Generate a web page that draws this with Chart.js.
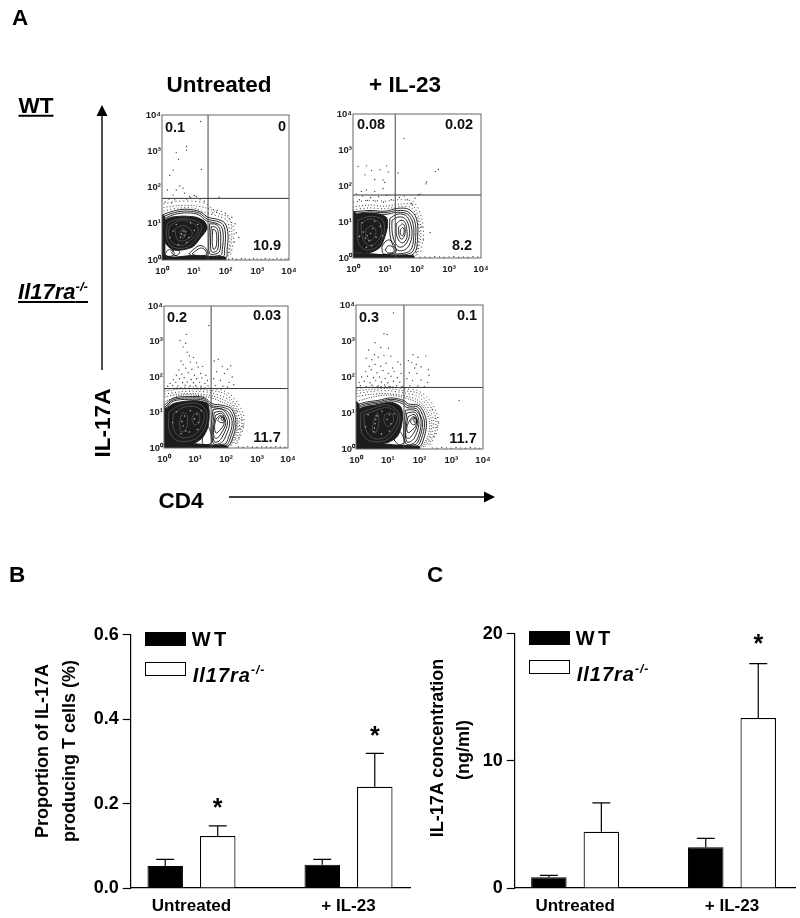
<!DOCTYPE html>
<html>
<head>
<meta charset="utf-8">
<script src="https://cdn.jsdelivr.net/npm/chart.js@4"></script>
<style>
  html, body { margin: 0; background: #fff; }
  body { position: relative; width: 800px; height: 918px; overflow: hidden; font-family: "Liberation Sans", Arial, sans-serif; font-weight: bold; color: #000; }
  canvas { position: absolute; }
  .t { position: absolute; line-height: 1; white-space: nowrap; transform: translate(-50%, -50%); }
  .pct { font-size: 14.5px; color: #111; }
  .head { font-size: 22.5px; }
  .rot { transform: translate(-50%, -50%) rotate(-90deg); }
  .ytitle { font-size: 18px; }
  .lg { font-size: 20px; }
  .ko { font-style: italic; letter-spacing: 1px; }
  sup { font-size: 60%; line-height: 0; }
  .sw { position: absolute; width: 39px; height: 12px; border: 1px solid #000; box-sizing: content-box; }
  svg { position: absolute; left: 0; top: 0; }
</style>
</head>
<body>
<canvas id="p1" width="171" height="173" style="left:132px;top:105px"></canvas>
<canvas id="p2" width="172" height="172" style="left:323px;top:104px"></canvas>
<canvas id="p3" width="168" height="170" style="left:134px;top:296px"></canvas>
<canvas id="p4" width="171" height="172" style="left:326px;top:295px"></canvas>
<canvas id="barB" width="325" height="298" style="left:90px;top:620px"></canvas>
<canvas id="barC" width="326" height="299" style="left:474px;top:619px"></canvas>

<svg width="800" height="918">
  <line x1="102" y1="370" x2="102" y2="112" stroke="#000" stroke-width="1.4"/>
  <polygon points="102,105 96.5,116 107.5,116" fill="#000"/>
  <line x1="229" y1="497" x2="486" y2="497" stroke="#000" stroke-width="1.4"/>
  <polygon points="495,497 484,491.5 484,502.5" fill="#000"/>
</svg>

<div class="t head" style="left:20px;top:18px">A</div>
<div class="t head" style="left:17px;top:575px">B</div>
<div class="t head" style="left:435px;top:575px">C</div>
<div class="t head" style="left:219px;top:85px">Untreated</div>
<div class="t head" style="left:405px;top:85px">+ IL-23</div>
<div class="t head" style="left:36px;top:106px;text-decoration:underline">WT</div>
<div class="t head" style="left:53px;top:292px;font-size:22px;font-style:italic;text-decoration:underline">Il17ra<sup>-/-</sup></div>
<div class="t head rot" style="left:103px;top:423px">IL-17A</div>
<div class="t head" style="left:181px;top:501px">CD4</div>

<div class="t pct" style="left:175px;top:127px">0.1</div>
<div class="t pct" style="left:282px;top:126px">0</div>
<div class="t pct" style="left:267px;top:245px">10.9</div>
<div class="t pct" style="left:371px;top:124px">0.08</div>
<div class="t pct" style="left:459px;top:124px">0.02</div>
<div class="t pct" style="left:462px;top:245px">8.2</div>
<div class="t pct" style="left:177px;top:317px">0.2</div>
<div class="t pct" style="left:267px;top:315px">0.03</div>
<div class="t pct" style="left:267px;top:437px">11.7</div>
<div class="t pct" style="left:369px;top:317px">0.3</div>
<div class="t pct" style="left:467px;top:315px">0.1</div>
<div class="t pct" style="left:463px;top:438px">11.7</div>

<div class="t ytitle rot" style="left:42px;top:751px">Proportion of IL-17A</div>
<div class="t ytitle rot" style="left:69px;top:751px">producing T cells (%)</div>
<div class="t ytitle rot" style="left:437px;top:748px">IL-17A concentration</div>
<div class="t ytitle rot" style="left:463px;top:750px">(ng/ml)</div>

<div class="sw" style="left:145px;top:632px;background:#000"></div>
<div class="sw" style="left:145px;top:662px;background:#fff"></div>
<div class="t lg" style="left:209px;top:639px;word-spacing:-2px">W T</div>
<div class="t lg ko" style="left:229px;top:675px">Il17ra<sup>-/-</sup></div>
<div class="sw" style="left:529px;top:631px;background:#000"></div>
<div class="sw" style="left:529px;top:660px;background:#fff"></div>
<div class="t lg" style="left:593px;top:638px;word-spacing:-2px">W T</div>
<div class="t lg ko" style="left:613px;top:674px">Il17ra<sup>-/-</sup></div>

<script>
// bar panels
const categories = ['Untreated', '+ IL-23'];
const bWt = [0.052, 0.055];
const bWtErr = [0.068, 0.068];
const bKo = [0.123, 0.24];
const bKoErr = [0.147, 0.319];
const bKoStars = [0.196, 0.368];
const cWt = [0.84, 3.2];
const cWtErr = [1.0, 3.9];
const cKo = [4.42, 13.37];
const cKoErr = [6.7, 17.66];
const cKoStars = [null, 19.4];

// flow panels, all values in log10 decades (x, y, x, y ...)
const gateX = [1.45, 1.32, 1.52, 1.51];
const gateY = [1.70, 1.75, 1.675, 1.71];

const p1Dots = [1.22,3.82,.77,3.13,.77,3.03,.45,2.97,.52,2.78,1.24,2.5,.35,2.48,.24,2.34,.17,1.93,.56,2.04,.66,1.98,.45,1.93,.71,1.84,.87,1.75,1.08,1.75,.35,1.79,1.8,1.73,
  .9,1.72,1.02,1.78,.22,1.68,.4,1.66,.62,1.7,.78,1.68,1.2,1.66,1.33,1.62,.1,1.6,.3,1.58,1.6,1.3,1.72,1.32,2.0,1.28,2.3,1.0,2.34,.75,2.28,.5,2.42,.62,2.2,1.18,
  2.1,.03,2.22,.04,2.35,.02,2.5,.04,2.62,.03,2.75,.02,2.88,.04,3.0,.03,3.12,.02,3.25,.04,3.38,.03,3.5,.02,3.62,.04,3.75,.03,3.88,.02,3.97,.03];
const p1Halo = [[.05,1.55,.5,1.62,1,1.62,1.4,1.55,1.6,1.4,2,1.3,2.25,.9,2.25,.5,2.15,.1],
  [.05,1.45,.5,1.5,1,1.5,1.45,1.42,1.8,1.28,2.12,1.15,2.2,.7,2.12,.15],
  [.05,1.35,.5,1.43,1,1.43,1.4,1.3,1.8,1.2,2.06,1.08,2.14,.6,2.08,.1]];
const p1Body = [[.06,1.1,.29,1.18,.66,1.21,1.08,1.18,1.34,1.06,1.42,.87,1.24,.64,.98,.37,.66,.28,.35,.28,.12,.46],
  [0,0,2,0,2,.08,1.4,.1,.9,.12,.4,.08,0,.1],
  [0,0,.08,0,.08,1.2,0,1.22]];
const p1Rings = [[.02,1.25,.4,1.36,.8,1.4,1.2,1.33,1.45,1.18,1.75,1.12,1.98,1.02,2.08,.7,2.05,.3,2,.06,1,.03,.05,.03,.02,.6],
  [.05,1.2,.4,1.31,.8,1.35,1.18,1.29,1.42,1.13,1.72,1.07,1.92,.98,2,.7,1.97,.3,1.93,.1,1,.07,.08,.08,.05,.6],
  [.08,1.15,.4,1.26,.8,1.3,1.15,1.25,1.4,1.08,1.68,1.02,1.87,.92,1.93,.65,1.9,.3,1.85,.13,1,.11,.12,.12,.08,.6],
  [1.5,1,1.7,.98,1.82,.85,1.85,.55,1.82,.25,1.7,.17,1.5,.18,1.48,.6],
  [1.55,.92,1.7,.9,1.77,.78,1.78,.5,1.75,.28,1.65,.22,1.55,.24,1.53,.6],
  [1.6,.85,1.68,.82,1.72,.7,1.72,.45,1.68,.32,1.62,.3,1.58,.5],
  [.85,.17,1,.3,1.2,.4,1.38,.32,1.45,.15,1.3,.1,1,.1],
  [.95,.17,1.1,.28,1.25,.33,1.38,.25,1.4,.15,1.25,.12,1.05,.13],
  [.1,.18,.2,.28,.35,.25,.38,.15,.25,.1,.12,.12],
  [.3,.2,.42,.3,.55,.24,.5,.14,.38,.13]];
const p1Sheen = [[.25,.95,.6,1.1,1,1,1.15,.8,.9,.55,.6,.4,.3,.5,.2,.75],[.4,.85,.65,.95,.9,.85,.95,.7,.75,.55,.5,.55],[.55,.75,.66,.88,.74,.72,.66,.6],[.16,1,.45,1.12,.9,1.12,1.25,.95,1.05,.55,.7,.33,.3,.38,.15,.6]];
const p1Specks = [.62,.72,.66,.8,.7,.68,.58,.62,.74,.78,.35,.8,.45,.98,.85,.62,1.02,.82,.9,1.02,.52,.42,.78,.48,.25,.62,1.12,.98];

const p2Dots = [1.59,3.32,.16,2.54,.42,2.56,.58,2.43,.84,2.45,1.05,2.56,.94,2.17,.99,2.1,.68,2.18,.37,2.31,1.1,2.39,.26,1.85,.42,1.89,.68,1.85,.94,1.93,1.41,2.36,
  2.67,2.46,2.57,2.4,2.3,2.11,2.28,2.06,2.04,1.75,1.94,1.66,2.1,1.77,1.83,1.52,
  2.41,.71,2.15,.87,2.2,.5,.1,1.78,.3,1.72,.55,1.68,.8,1.7,1.05,1.74,1.2,1.62,1.45,1.68,1.6,1.72,.2,1.62,.45,1.6,.7,1.58,.95,1.55,1.7,1.62,1.85,1.48,
  2.1,.02,2.25,.03,2.4,.02,2.55,.04,2.7,.03,2.85,.02,3,.03,3.15,.04,3.3,.02,3.45,.03,3.6,.02,3.75,.04,3.9,.03];
const p2Halo = [[0,1.55,.5,1.6,1,1.58,1.5,1.62,1.9,1.55,2.15,1.1,2.2,.6,2.1,.1],
  [0,1.42,.5,1.47,1,1.44,1.5,1.5,1.85,1.48,2.08,1.05,2.12,.6,2,.08],
  [0,1.34,.5,1.39,1,1.37,1.5,1.43,1.82,1.4,2.03,1.05,2.07,.6,1.96,.06]];
const p2Body = [[.05,1.2,.4,1.25,.8,1.22,1.05,1.12,1.08,.9,1,.6,.85,.3,.6,.17,.3,.14,.05,.2],
  [0,0,1.9,0,1.9,.06,1.2,.07,.5,.12,0,.12],
  [0,0,.08,0,.08,1.25,0,1.3]];
const p2Rings = [[0,1.28,.5,1.32,1,1.3,1.4,1.38,1.75,1.35,1.98,1.1,2.02,.6,1.9,.12,1.3,.04,.5,.03,0,.04],
  [.02,1.23,.5,1.28,1,1.26,1.4,1.32,1.72,1.28,1.92,1.05,1.96,.6,1.84,.16,1.3,.08,.5,.07,.03,.08],
  [.04,1.19,.5,1.24,1,1.21,1.4,1.27,1.7,1.22,1.86,1,1.9,.6,1.78,.2,1.3,.11,.5,.1,.06,.12],
  [1.15,1.1,1.4,1.22,1.65,1.18,1.8,.95,1.84,.6,1.7,.28,1.45,.2,1.25,.35,1.15,.7],
  [1.22,1.05,1.42,1.14,1.62,1.1,1.74,.9,1.76,.6,1.62,.36,1.45,.3,1.3,.45,1.22,.75],
  [1.35,.95,1.5,1.05,1.62,1,1.68,.8,1.68,.55,1.55,.42,1.42,.5,1.35,.7],
  [1.42,.85,1.55,.95,1.62,.85,1.62,.65,1.52,.52,1.44,.62],
  [1.48,.78,1.56,.85,1.6,.75,1.55,.62,1.48,.66],
  [.9,.3,1,.45,1.15,.5,1.3,.35,1.35,.18,1.2,.12,.95,.12],
  [1,.22,1.1,.34,1.25,.3,1.28,.18,1.1,.14]];
const p2Sheen = [[.25,.95,.5,1.08,.8,1,.9,.75,.75,.45,.5,.35,.3,.55],[.4,.8,.6,.9,.72,.72,.6,.5,.42,.55],[.15,1.05,.5,1.15,.9,1.08,.98,.75,.8,.35,.45,.22,.18,.4]];
const p2Specks = [.45,.62,.38,.55,.5,.48,.55,.68,.32,.72,.62,.82,.72,.58,.28,.98,.68,1.02,.85,.88,.42,.3,.58,.34,.2,.6,.92,.62];

const p3Dots = [.52,3.03,.7,2.95,.62,2.85,.72,3.2,1.45,3.45,.75,2.7,.82,2.6,.55,2.45,.95,2.55,.62,2.35,.85,2.42,1.05,2.4,.48,2.2,.7,2.25,.9,2.22,1.1,2.28,1.25,2.3,
  .4,2.05,.58,2.08,.78,2.12,.98,2.05,1.18,2.1,1.35,2.05,.3,1.92,.5,1.95,.65,1.98,.88,1.93,1.05,1.95,1.22,1.97,1.4,1.9,.2,1.82,.38,1.85,.6,1.84,.75,1.86,.95,1.84,1.15,1.85,1.32,1.82,
  .12,1.74,.28,1.76,.45,1.75,.68,1.77,.85,1.75,1.02,1.76,1.2,1.74,1.42,1.75,
  1.62,2.45,1.75,2.5,1.88,2.3,2.15,2.32,2.05,2.22,1.7,2.15,1.95,2.1,2.2,2.0,1.6,1.95,1.82,1.9,2.1,1.85,2.25,1.78,1.65,1.76,1.9,1.74,2.05,1.72,
  2.5,.8,2.45,.55,2.55,.62,2.42,.3,2.35,1.05,
  2.4,.03,2.55,.02,2.7,.04,2.85,.03,3,.02,3.15,.04,3.3,.03,3.45,.02,3.6,.04,3.75,.03,3.9,.02];
const p3Halo = [[.02,1.66,.5,1.7,1,1.72,1.5,1.68,1.9,1.62,2.25,1.42,2.56,.95,2.55,.55,2.36,.12],
  [.02,1.6,.5,1.66,1,1.66,1.5,1.62,1.9,1.55,2.2,1.35,2.5,.9,2.48,.5,2.3,.1],
  [.02,1.52,.5,1.58,1,1.6,1.5,1.56,1.9,1.45,2.2,1.28,2.43,.85,2.4,.45,2.22,.08],
  [.02,1.44,.5,1.52,1,1.53,1.5,1.48,1.9,1.36,2.2,1.2,2.38,.8,2.34,.4,2.16,.06],
  [.02,1.3,.5,1.48,1,1.49,1.5,1.42,1.9,1.28,2.2,1.14,2.36,.75,2.28,.35,2.1,.05]];
const p3Body = [[.05,1.1,.3,1.25,.7,1.32,1.1,1.33,1.4,1.25,1.46,1,1.42,.6,1.25,.3,1,.15,.5,.1,.1,.1],
  [0,0,2.05,0,2.05,.05,1.5,.08,1,.12,.4,.15,0,.12],
  [0,0,.08,0,.08,1.05,0,1.1]];
const p3Rings = [[0,1.2,.3,1.4,.8,1.45,1.3,1.42,1.55,1.25,1.9,1.2,2.18,1.1,2.32,.7,2.2,.25,2.05,.05,1,.03,.05,.03],
  [.03,1.15,.3,1.36,.8,1.41,1.3,1.38,1.53,1.2,1.88,1.15,2.13,1.05,2.26,.7,2.14,.28,2,.08,1,.06,.08,.06],
  [.05,1.12,.3,1.32,.8,1.37,1.3,1.34,1.51,1.16,1.86,1.1,2.08,1,2.2,.7,2.08,.3,1.95,.11,1,.09,.1,.09],
  [1.58,1.08,1.85,1.1,2.03,.95,2.12,.7,2,.35,1.85,.15,1.6,.12,1.52,.5],
  [1.62,1,1.85,1.03,1.98,.9,2.05,.7,1.93,.4,1.78,.2,1.62,.18,1.57,.55],
  [1.66,.92,1.85,.98,1.95,.85,1.99,.68,1.87,.45,1.72,.28,1.62,.3,1.6,.6],
  [1.68,.82,1.82,.92,1.92,.82,1.93,.66,1.8,.5,1.68,.42,1.63,.6],
  [1.78,.86,1.88,.9,1.96,.82,1.92,.72,1.82,.72,1.74,.78],
  [1.84,.85,1.9,.86,1.92,.8,1.86,.78],
  [1.25,.32,1.42,.6,1.5,.45,1.56,.2,1.45,.1,1.25,.12]];
const p3Sheen = [[.3,.95,.65,1.15,1.05,1.15,1.3,.95,1.2,.6,.95,.35,.55,.3,.3,.55],[.5,.7,.6,1.0,.75,.9,.72,.55,.55,.45],[.95,.95,1.1,1,1.15,.8,1,.65,.9,.8],[.15,1,.5,1.2,1.1,1.25,1.38,1,1.3,.55,1,.25,.45,.2,.18,.45]];
const p3Specks = [.62,.62,.58,.75,.66,.9,.7,.48,.55,.4,.98,.82,1.06,.95,1.12,.72,.85,1.05,.4,1.02,.28,.72,1.2,1.05,.82,.45,1.08,.52];

const p4Dots = [1.18,3.78,.6,2.95,.88,3.2,.98,3.18,.4,2.75,.58,2.62,.78,2.82,1.02,2.8,.32,2.52,.5,2.48,.7,2.55,.88,2.6,1.1,2.58,1.32,2.42,
  .42,2.3,.6,2.35,.78,2.3,.95,2.38,1.15,2.25,1.4,2.35,.3,2.15,.48,2.2,.66,2.12,.85,2.18,1.02,2.1,1.2,2.15,1.42,2.1,.18,2.0,.36,2.02,.55,1.98,.74,2.0,.92,1.96,1.1,2.02,1.3,1.98,
  .1,1.85,.26,1.88,.44,1.84,.62,1.9,.8,1.86,1,1.84,1.18,1.88,1.38,1.86,.14,1.76,.32,1.74,.5,1.77,.7,1.75,.9,1.78,1.08,1.74,1.28,1.76,1.45,1.74,
  1.65,2.45,1.8,2.62,1.95,2.55,2.2,2.58,1.75,2.4,1.9,2.35,1.85,2.25,2.05,2.28,2.28,2.2,1.68,2.12,1.92,2.1,2.3,2.05,1.6,1.95,1.78,1.9,2.05,1.92,2.25,1.85,1.7,1.76,1.95,1.75,2.15,1.74,
  3.25,1.35,2.5,.85,2.55,.6,2.45,.35,2.6,.72,2.4,1.1,
  2.4,.03,2.55,.02,2.7,.04,2.85,.03,3,.02,3.15,.04,3.3,.03,3.45,.02,3.6,.04,3.75,.03,3.9,.02];
const p4Halo = [[.02,1.68,.5,1.72,1,1.74,1.5,1.68,1.95,1.62,2.3,1.38,2.56,.95,2.55,.5,2.32,.1],
  [.02,1.62,.5,1.66,1,1.68,1.5,1.62,1.95,1.55,2.25,1.3,2.5,.9,2.48,.45,2.25,.08],
  [.02,1.54,.5,1.6,1,1.62,1.5,1.56,1.95,1.46,2.22,1.22,2.43,.85,2.4,.42,2.18,.06],
  [.02,1.46,.5,1.52,1,1.54,1.5,1.48,1.9,1.38,2.18,1.16,2.38,.8,2.33,.38,2.12,.05],
  [.02,1.32,.5,1.44,1,1.5,1.5,1.43,1.9,1.3,2.15,1.12,2.32,.75,2.26,.34,2.06,.05]];
const p4Body = [[.05,1.1,.3,1.18,.6,1.22,1.1,1.3,1.4,1.18,1.47,.95,1.42,.6,1.3,.35,1,.18,.5,.14,.1,.12],
  [0,0,2,0,2,.06,1.4,.1,.9,.14,.4,.15,0,.14],
  [0,0,.09,0,.09,1.25,0,1.3]];
const p4Rings = [[0,1.22,.3,1.3,.7,1.35,1.1,1.42,1.5,1.35,1.65,1.25,1.95,1.22,2.12,1.05,2.22,.7,2.12,.25,1.98,.06,1,.04,.05,.03],
  [.03,1.18,.3,1.26,.7,1.31,1.1,1.38,1.48,1.31,1.63,1.2,1.93,1.17,2.07,1,2.16,.7,2.06,.28,1.92,.09,1,.07,.08,.07],
  [.05,1.14,.3,1.22,.7,1.27,1.1,1.34,1.46,1.26,1.6,1.15,1.9,1.12,2.02,.95,2.1,.7,2,.3,1.86,.12,1,.1,.1,.1],
  [1.56,1.08,1.85,1.08,2,.95,2.05,.7,1.95,.32,1.8,.15,1.58,.14,1.5,.5],
  [1.6,1,1.85,1.02,1.95,.9,1.98,.68,1.88,.38,1.75,.22,1.6,.2,1.55,.55],
  [1.64,.9,1.83,.96,1.92,.84,1.93,.66,1.82,.45,1.68,.3,1.58,.32,1.58,.6],
  [1.68,.78,1.8,.9,1.9,.82,1.88,.64,1.76,.52,1.64,.45,1.6,.6],
  [1.76,.82,1.86,.88,1.92,.8,1.88,.7,1.78,.68,1.72,.76],
  [1.82,.84,1.88,.84,1.9,.78,1.84,.74],
  [1.2,.25,1.35,.5,1.48,.35,1.52,.18,1.35,.12]];
const p4Sheen = [[.25,.95,.55,1.05,1,1.15,1.3,.95,1.2,.6,.9,.32,.55,.3,.3,.55],[.5,.5,.58,.85,.68,1,.72,.75,.62,.45],[.9,.95,1.1,1,1.18,.78,1,.62,.88,.78],[.15,1,.5,1.12,1,1.22,1.36,.98,1.3,.58,.95,.25,.45,.22,.18,.45]];
const p4Specks = [.58,.58,.6,.7,.62,.82,.56,.48,.66,.92,.98,.82,1.05,.95,1.1,.7,.82,1.05,.38,.95,.3,.62,1.2,.98,.8,.42,1.05,.5];

Chart.defaults.animation = false;
Chart.defaults.responsive = false;
Chart.defaults.font.family = '"Liberation Sans", Arial, sans-serif';
Chart.defaults.plugins.legend.display = false;
Chart.defaults.plugins.tooltip.enabled = false;

const superDigits = ['⁰', '¹', '²', '³', '⁴'];

function toPoints(flat, closed) {
  const pts = [];
  for (let i = 0; i < flat.length; i += 2) pts.push({ x: flat[i], y: flat[i + 1] });
  if (closed) pts.push(pts[0]);
  return pts;
}

// draws the box round a flow plot
const frame = {
  id: 'frame',
  afterDraw(chart) {
    const a = chart.chartArea, c = chart.ctx;
    c.save();
    c.strokeStyle = '#666';
    c.lineWidth = 1;
    c.strokeRect(a.left, a.top, a.right - a.left, a.bottom - a.top);
    c.restore();
  }
};

function flowPanel(id, i, dots, halo, body, rings, sheen, specks) {
  const datasets = [];
  const add = d => datasets.push(Object.assign({ showLine: true, pointRadius: 0, fill: false, order: -datasets.length }, d));
  const dashes = [[1, 3], [1, 2], [1, 2.5], [1, 1.8], [1, 1.5]];
  halo.forEach((h, k) => add({ data: toPoints(h), borderColor: '#333', borderWidth: 1, borderDash: dashes[k % 5], tension: 0.3 }));
  rings.forEach(r => add({ data: toPoints(r, true), borderColor: '#111', borderWidth: 0.9, tension: 0.35 }));
  body.forEach(b => add({ data: toPoints(b, true), borderColor: '#1c1c1c', backgroundColor: '#1c1c1c', borderWidth: 1, fill: 'shape', tension: 0.25 }));
  sheen.forEach(s => add({ data: toPoints(s, true), borderColor: '#5f5f5f', borderWidth: 0.7, tension: 0.35 }));
  add({ data: toPoints(specks), showLine: false, pointRadius: 0.8, pointBorderWidth: 0, pointBackgroundColor: '#aaa' });
  add({ data: toPoints(dots), showLine: false, pointRadius: 0.7, pointBorderWidth: 0, pointBackgroundColor: '#444' });
  add({ data: [{ x: gateX[i], y: 0 }, { x: gateX[i], y: 4 }], borderColor: '#444', borderWidth: 1 });
  add({ data: [{ x: 0, y: gateY[i] }, { x: 4, y: gateY[i] }], borderColor: '#333', borderWidth: 1 });

  new Chart(document.getElementById(id), {
    type: 'scatter',
    data: { datasets },
    plugins: [frame],
    options: {
      layout: { padding: { top: 10, right: 14 } },
      scales: {
        x: {
          min: 0, max: 4,
          grid: { display: false, drawTicks: false, tickLength: 0 }, border: { display: false },
          ticks: { stepSize: 1, padding: 6, maxRotation: 0, font: { size: 9.5, weight: 'bold' }, color: '#222', callback: v => '10' + superDigits[v] },
          afterFit: s => { s.height = 18; }
        },
        y: {
          min: 0, max: 4,
          grid: { display: false, drawTicks: false, tickLength: 0 }, border: { display: false },
          ticks: { stepSize: 1, padding: 1, font: { size: 9.5, weight: 'bold' }, color: '#222', callback: v => '10' + superDigits[v] },
          afterFit: s => { s.width = 30; }
        }
      }
    }
  });
}

flowPanel('p1', 0, p1Dots, p1Halo, p1Body, p1Rings, p1Sheen, p1Specks);
flowPanel('p2', 1, p2Dots, p2Halo, p2Body, p2Rings, p2Sheen, p2Specks);
flowPanel('p3', 2, p3Dots, p3Halo, p3Body, p3Rings, p3Sheen, p3Specks);
flowPanel('p4', 3, p4Dots, p4Halo, p4Body, p4Rings, p4Sheen, p4Specks);

// error bars and significance stars are read from each dataset
const errorBars = {
  id: 'errorBars',
  afterDatasetsDraw(chart) {
    const c = chart.ctx, y = chart.scales.y;
    c.save();
    chart.data.datasets.forEach((ds, d) => {
      chart.getDatasetMeta(d).data.forEach((bar, j) => {
        const top = y.getPixelForValue(ds.errTop[j]);
        c.strokeStyle = '#000';
        c.lineWidth = 1.2;
        c.beginPath();
        c.moveTo(bar.x, bar.y);
        c.lineTo(bar.x, top);
        c.moveTo(bar.x - 9, top);
        c.lineTo(bar.x + 9, top);
        c.stroke();
        if (ds.stars && ds.stars[j] != null) {
          c.fillStyle = '#000';
          c.font = 'bold 25px "Liberation Sans", Arial, sans-serif';
          c.textAlign = 'center';
          c.textBaseline = 'middle';
          c.fillText('*', bar.x, y.getPixelForValue(ds.stars[j]) + 4);
        }
      });
    });
    c.restore();
  }
};

function barPanel(id, wt, wtErr, ko, koErr, stars, yMax, step, fmt, xMin, xMax, yWidth, padTop, padRight) {
  const pts = arr => arr.map((v, i) => ({ x: i, y: v }));
  new Chart(document.getElementById(id), {
    type: 'bar',
    data: {
      datasets: [
        { label: 'WT', data: pts(wt), errTop: wtErr, backgroundColor: '#000', borderColor: '#000', borderWidth: 1 },
        { label: 'Il17ra-/-', data: pts(ko), errTop: koErr, stars: stars, backgroundColor: '#fff', borderColor: '#000', borderWidth: 1.2 }
      ]
    },
    plugins: [errorBars],
    options: {
      categoryPercentage: 0.669,
      barPercentage: 0.676,
      layout: { padding: { top: padTop, right: padRight } },
      scales: {
        x: {
          type: 'linear', offset: false, min: xMin, max: xMax,
          grid: { display: false },
          border: { color: '#000', width: 1.2 },
          ticks: { stepSize: 1, includeBounds: false, maxRotation: 0, padding: 0, color: '#000', font: { size: 17, weight: 'bold' }, callback: v => categories[v] },
          afterFit: s => { s.height = 30; }
        },
        y: {
          min: 0, max: yMax,
          grid: { drawOnChartArea: false, tickLength: 8, tickWidth: 1.2, color: '#000' },
          border: { color: '#000', width: 1.2 },
          ticks: { stepSize: step, padding: 4, color: '#000', font: { size: 18, weight: 'bold' }, callback: fmt },
          afterFit: s => { s.width = yWidth; }
        }
      }
    }
  });
}

barPanel('barB', bWt, bWtErr, bKo, bKoErr, bKoStars, 0.6, 0.2, v => v.toFixed(1), -0.387, 1.396, 40.7, 14.3, 4.3);
barPanel('barC', cWt, cWtErr, cKo, cKoErr, cKoStars, 20, 10, v => v, -0.385, 1.406, 40.7, 14.3, 4.3);
</script>
</body>
</html>
